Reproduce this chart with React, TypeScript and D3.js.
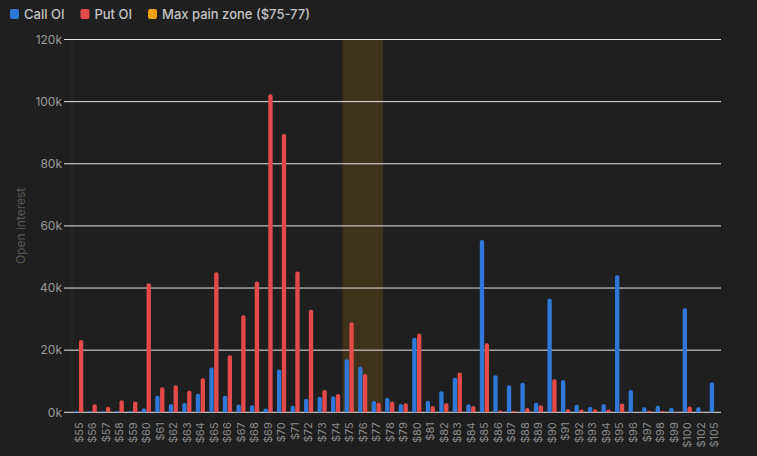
import * as React from "react";
import * as d3 from "d3";

const strikes: string[] = [
  "$55", "$56", "$57", "$58", "$59", "$60", "$61", "$62", "$63", "$64",
  "$65", "$66", "$67", "$68", "$69", "$70", "$71", "$72", "$73", "$74",
  "$75", "$76", "$77", "$78", "$79", "$80", "$81", "$82", "$83", "$84",
  "$85", "$86", "$87", "$88", "$89", "$90", "$91", "$92", "$93", "$94",
  "$95", "$96", "$97", "$98", "$99", "$100", "$102", "$105",
];

// open interest in thousands
const callOI: number[] = [
  0.3, 0.3, 0.3, 0.3, 0.3, 1.3, 5.3, 2.7, 3.0, 6.0,
  14.4, 5.3, 2.5, 2.3, 1.2, 13.8, 2.1, 4.4, 5.0, 5.2,
  17.1, 14.7, 3.6, 4.6, 2.7, 24.0, 3.7, 6.8, 11.1, 2.6,
  55.5, 11.9, 8.7, 9.5, 3.1, 36.6, 10.4, 2.4, 1.8, 2.7,
  44.1, 7.2, 1.6, 2.1, 1.5, 33.5, 1.6, 9.7,
];

const putOI: number[] = [
  23.3, 2.6, 1.8, 3.9, 3.5, 41.5, 8.1, 8.7, 6.9, 11.0,
  45.1, 18.4, 31.2, 42.1, 102.4, 89.6, 45.3, 33.0, 7.2, 5.9,
  29.0, 12.3, 3.1, 3.5, 2.9, 25.4, 2.0, 2.9, 12.8, 2.0,
  22.2, 0.6, 0.4, 1.4, 2.3, 10.6, 1.1, 0.9, 1.0, 0.9,
  2.8, 0, 0.5, 0.3, 0.1, 1.9, 0.1, 0,
];

const yTicks: number[] = [0, 20, 40, 60, 80, 100, 120];
const maxPain: string[] = ["$75", "$77"];

const legend = [
  { label: "Call OI", color: "#2f78d8" },
  { label: "Put OI", color: "#e34a4a" },
  { label: "Max pain zone ($75-77)", color: "#f0a30a" },
];

function barPath(x: number, y: number, w: number, h: number, r: number) {
  if (h <= 0) return "";
  const rr = Math.min(r, w / 2, h);
  return `M${x},${y + h}V${y + rr}Q${x},${y} ${x + rr},${y}H${x + w - rr}Q${x + w},${y} ${x + w},${y + rr}V${y + h}Z`;
}

function drawChart(svgEl: SVGSVGElement) {
  const width = 757;
  const height = 456;
  const margin = { top: 39.5, right: 36, bottom: 43.7, left: 72 };
  const w = width - margin.left - margin.right;
  const h = height - margin.top - margin.bottom;

  const svg = d3.select(svgEl);
  svg.selectAll("*").remove();
  svg.attr("width", width).attr("height", height);

  svg.append("rect").attr("width", width).attr("height", height).attr("fill", "#1f1f1f");

  // legend
  let lx = 10;
  const lg = svg.append("g").attr("font-family", "Inter, sans-serif").attr("font-size", 13);
  legend.forEach((item) => {
    lg.append("rect")
      .attr("x", lx)
      .attr("y", 9)
      .attr("width", 9)
      .attr("height", 10)
      .attr("rx", 2)
      .attr("fill", item.color);
    const t = lg
      .append("text")
      .attr("x", lx + 14)
      .attr("y", 18.5)
      .attr("fill", "#c4c4c4")
      .attr("font-weight", 500)
      .text(item.label);
    const tw = (t.node() as SVGTextElement).getComputedTextLength();
    lx += 14 + tw + 16;
  });

  const g = svg.append("g").attr("transform", `translate(${margin.left},${margin.top})`);

  const x = d3.scaleBand<string>().domain(strikes).range([0, w]).paddingInner(0.25).paddingOuter(0.12);
  const sub = d3.scaleBand<string>().domain(["call", "put"]).range([0, x.bandwidth()]).padding(0.1);
  const y = d3.scaleLinear().domain([0, 120]).range([h, 0]);

  // max pain zone
  const half = (x.step() * x.paddingInner()) / 2;
  const zx0 = x(maxPain[0])! - half;
  const zx1 = x(maxPain[1])! + x.bandwidth() + half;
  g.append("rect")
    .attr("x", zx0)
    .attr("y", 0)
    .attr("width", zx1 - zx0)
    .attr("height", h)
    .attr("fill", "#f0a30a")
    .attr("opacity", 0.15);

  // y axis line
  g.append("line")
    .attr("x1", 0)
    .attr("x2", 0)
    .attr("y1", 0)
    .attr("y2", h)
    .attr("stroke", "#2c2c2c");

  // grid
  g.append("g")
    .selectAll("line")
    .data(yTicks)
    .enter()
    .append("line")
    .attr("x1", -8)
    .attr("x2", w)
    .attr("y1", (d) => y(d))
    .attr("y2", (d) => y(d))
    .attr("stroke", "#e6e6e6")
    .attr("stroke-width", 1);

  g.append("g")
    .selectAll("text")
    .data(yTicks)
    .enter()
    .append("text")
    .attr("x", -10)
    .attr("y", (d) => y(d))
    .attr("dy", "0.35em")
    .attr("text-anchor", "end")
    .attr("font-family", "Inter, sans-serif")
    .attr("font-size", 12)
    .attr("fill", "#9a9a9a")
    .text((d) => `${d}k`);

  g.append("text")
    .attr("transform", `translate(${21 - margin.left},${h / 2}) rotate(-90)`)
    .attr("text-anchor", "middle")
    .attr("dy", "0.35em")
    .attr("font-family", "Inter, sans-serif")
    .attr("font-size", 12)
    .attr("fill", "#575757")
    .text("Open interest");

  // bars
  const rows = strikes.map((s, i) => ({ strike: s, call: callOI[i], put: putOI[i] }));
  const groups = g
    .append("g")
    .selectAll("g")
    .data(rows)
    .enter()
    .append("g")
    .attr("transform", (d) => `translate(${x(d.strike)},0)`);

  groups
    .append("path")
    .attr("fill", legend[0].color)
    .attr("d", (d) => barPath(sub("call")!, y(d.call), sub.bandwidth(), h - y(d.call), 2));
  groups
    .append("path")
    .attr("fill", legend[1].color)
    .attr("d", (d) => barPath(sub("put")!, y(d.put), sub.bandwidth(), h - y(d.put), 2));

  // x labels
  g.append("g")
    .selectAll("text")
    .data(strikes)
    .enter()
    .append("text")
    .attr("transform", (d) => `translate(${x(d)! + x.bandwidth() / 2},${h + 10}) rotate(-90)`)
    .attr("text-anchor", "end")
    .attr("dy", "0.35em")
    .attr("font-family", "Inter, sans-serif")
    .attr("font-size", 11)
    .attr("fill", "#8a8a8a")
    .text((d) => d);
}

export default function App() {
  const svg = React.useRef<SVGSVGElement>(null);
  React.useEffect(() => {
    document.body.style.margin = "0";
    document.body.style.background = "#1f1f1f";
    if (svg.current) drawChart(svg.current);
  }, []);

  return <svg ref={svg} style={{ display: "block" }} />;
}
